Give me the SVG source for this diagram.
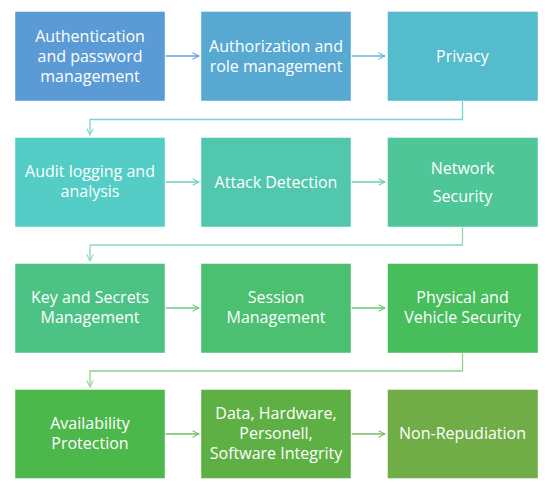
<svg xmlns="http://www.w3.org/2000/svg" width="546" height="484" viewBox="0 0 546 484">
<defs>
<style>
.box{stroke:#ffffff;stroke-opacity:0.45;stroke-width:1}
.t{font-family:"Open Sans","Noto Sans","Liberation Sans",sans-serif;font-size:16px;fill:#ffffff;text-anchor:middle}
.c{fill:none;stroke-width:1.3}
</style>
<marker id="ah" viewBox="0 0 10 10" refX="9" refY="5" markerWidth="8" markerHeight="8" markerUnits="userSpaceOnUse" orient="auto">
<path d="M1,1 L9,5 L1,9" fill="none" stroke="context-stroke" stroke-width="1.3"/>
</marker>
</defs>
<rect width="546" height="484" fill="#ffffff"/>
<g id="connectors">
<path class="c" d="M165.5,56 H199" stroke="#6AA5DA" marker-end="url(#ah)"/>
<path class="c" d="M351.5,56 H385" stroke="#66B5D6" marker-end="url(#ah)"/>
<path class="c" d="M462.5,101 V119.5 H90 V135" stroke="#7DCFDA" marker-end="url(#ah)"/>
<path class="c" d="M165.5,182 H199" stroke="#6BD1C6" marker-end="url(#ah)"/>
<path class="c" d="M351.5,182 H385" stroke="#6ACDAE" marker-end="url(#ah)"/>
<path class="c" d="M462.5,227 V245 H90 V261" stroke="#8DD9AF" marker-end="url(#ah)"/>
<path class="c" d="M165.5,308 H199" stroke="#6CC88A" marker-end="url(#ah)"/>
<path class="c" d="M351.5,308 H385" stroke="#6AC474" marker-end="url(#ah)"/>
<path class="c" d="M462.5,353 V371 H90 V387" stroke="#8FD48A" marker-end="url(#ah)"/>
<path class="c" d="M165.5,434 H199" stroke="#72C062" marker-end="url(#ah)"/>
<path class="c" d="M351.5,434 H385" stroke="#7CBA62" marker-end="url(#ah)"/>
</g>
<g id="n1"><rect class="box" x="15" y="11.5" width="150" height="89.5" fill="#5B9BD5"/>
<text class="t" x="90" y="42">Authentication</text><text class="t" x="90" y="62">and password</text><text class="t" x="90" y="82">management</text></g>
<g id="n2"><rect class="box" x="201" y="11.5" width="150" height="89.5" fill="#57A9D2"/>
<text class="t" x="276" y="52">Authorization and</text><text class="t" x="276" y="72">role management</text></g>
<g id="n3"><rect class="box" x="387.5" y="11.5" width="150.5" height="89.5" fill="#54BCCC"/>
<text class="t" x="462.5" y="62">Privacy</text></g>
<g id="n4"><rect class="box" x="15" y="137.5" width="150" height="89.5" fill="#53CDC6"/>
<text class="t" x="90" y="177">Audit logging and</text><text class="t" x="90" y="197">analysis</text></g>
<g id="n5"><rect class="box" x="201" y="137.5" width="150" height="89.5" fill="#51C8AE"/>
<text class="t" x="276" y="188">Attack Detection</text></g>
<g id="n6"><rect class="box" x="387.5" y="137.5" width="150.5" height="89.5" fill="#4FC698"/>
<text class="t" x="462.5" y="174">Network</text><text class="t" x="462.5" y="202">Security</text></g>
<g id="n7"><rect class="box" x="15" y="263.5" width="150" height="89.5" fill="#4CC385"/>
<text class="t" x="90" y="303">Key and Secrets</text><text class="t" x="90" y="323">Management</text></g>
<g id="n8"><rect class="box" x="201" y="263.5" width="150" height="89.5" fill="#4AC070"/>
<text class="t" x="276" y="303">Session</text><text class="t" x="276" y="323">Management</text></g>
<g id="n9"><rect class="box" x="387.5" y="263.5" width="150.5" height="89.5" fill="#48BD5C"/>
<text class="t" x="462.5" y="303">Physical and</text><text class="t" x="462.5" y="323">Vehicle Security</text></g>
<g id="n10"><rect class="box" x="15" y="389.5" width="150" height="89" fill="#4CB74A"/>
<text class="t" x="90" y="429">Availability</text><text class="t" x="90" y="449">Protection</text></g>
<g id="n11"><rect class="box" x="201" y="389.5" width="150" height="89" fill="#5EB045"/>
<text class="t" x="276" y="419">Data, Hardware,</text><text class="t" x="276" y="439">Personell,</text><text class="t" x="276" y="459">Software Integrity</text></g>
<g id="n12"><rect class="box" x="387.5" y="389.5" width="150.5" height="89" fill="#70AD47"/>
<text class="t" x="462.5" y="439">Non-Repudiation</text></g>
</svg>
